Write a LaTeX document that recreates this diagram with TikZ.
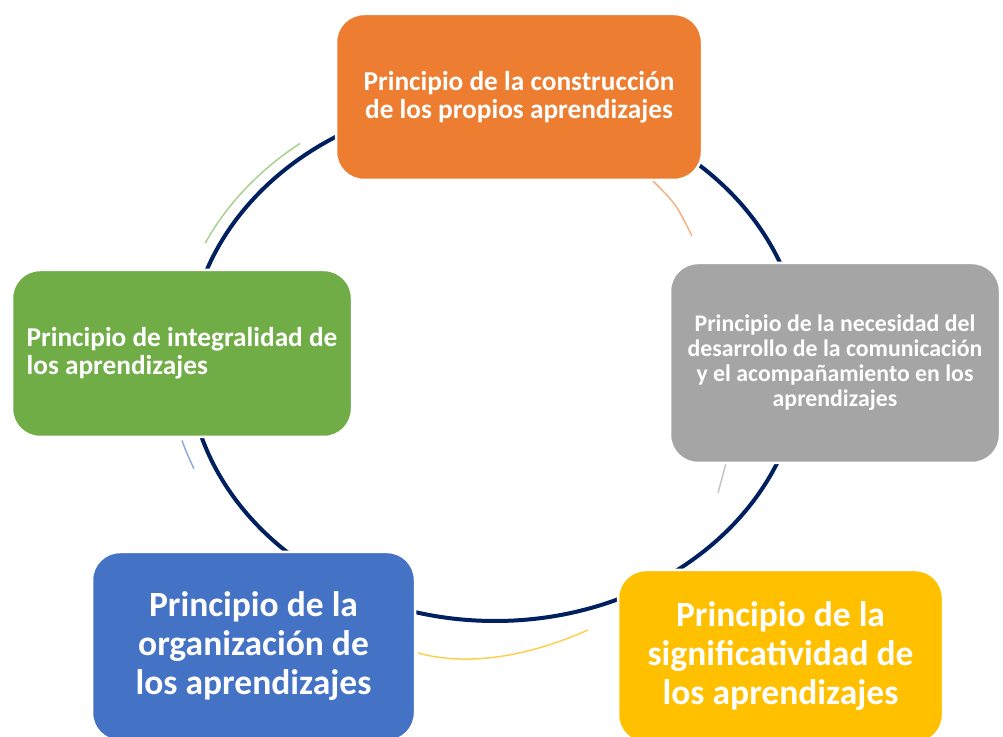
\documentclass[tikz,border=0pt]{standalone}
\usepackage{fontspec}
\setmainfont{Carlito}
\usetikzlibrary{calc}
\definecolor{cOrange}{HTML}{ED7D31}
\definecolor{cGray}{HTML}{A5A5A5}
\definecolor{cGreen}{HTML}{70AD47}
\definecolor{cBlue}{HTML}{4472C4}
\definecolor{cYellow}{HTML}{FFC000}
\definecolor{cNavy}{HTML}{002060}
\definecolor{cOrangeL}{HTML}{F4B183}
\definecolor{cGrayL}{HTML}{C4C4C4}
\definecolor{cGreenL}{HTML}{A9D18E}
\definecolor{cBlueL}{HTML}{8FAADC}
\definecolor{cYellowL}{HTML}{FFD050}
\begin{document}
\begin{tikzpicture}[x=1pt,y=1pt,
  box/.style={rounded corners=28pt, draw=white, line width=2.5pt, text=white, align=center, inner sep=0pt},
  ring/.style={draw=cNavy, line width=4pt},
  ghost/.style={line width=1.5pt},
  fsmall/.style={font={\fontsize{27.3pt}{27.6pt}\selectfont\bfseries}},
  fgray/.style={font={\fontsize{23.8pt}{25pt}\selectfont\bfseries}},
  fbig/.style={font={\fontsize{35.5pt}{39pt}\selectfont\bfseries}}]
\path[use as bounding box] (0,0) rectangle (1003,736);
\clip (0,0) rectangle (1003,736);
\coordinate (ctr) at (495,376);
% main cycle
\draw[ring] (ctr) ellipse [x radius=307pt, y radius=261pt];
% light arcs
\draw[ghost, draw=cGreenL] ($(ctr)+(127.4:320.8pt and 272.7pt)$) arc[start angle=127.4, end angle=154.6, x radius=320.8pt, y radius=272.7pt];
\draw[ghost, draw=cBlueL] ($(ctr)+(196.8:327pt and 278pt)$) arc[start angle=196.8, end angle=203, x radius=327pt, y radius=278pt];
\coordinate (o1) at (652,556);
\coordinate (o2) at (692,500);
\draw[ghost, draw=cOrangeL] (o1) .. controls (676,532) .. (o2);
\coordinate (g1) at (726,273);
\coordinate (g2) at (718,243);
\draw[ghost, draw=cGrayL] (g1) -- (g2);
\coordinate (y1) at (588,106);
\coordinate (y2) at (418,83);
\draw[ghost, draw=cYellowL] (y1) .. controls (525,78) and (465,70) .. (y2);
% boxes
\node[box, fsmall, fill=cOrange, minimum width=366pt, minimum height=166pt] (n1) at (519,639)
  {Principio de la construcción\\de los propios aprendizajes};
\node[box, fgray, fill=cGray, minimum width=330pt, minimum height=200pt] (n2) at (835,373)
  {Principio de la necesidad del\\desarrollo de la comunicación\\y el acompañamiento en los\\aprendizajes};
\node[box, fbig, fill=cYellow, minimum width=325pt, minimum height=173pt] (n3) at (780.5,79.5)
  {Principio de la\\significatividad de\\los aprendizajes};
\node[box, fbig, fill=cBlue, minimum width=323pt, minimum height=189pt] (n4) at (253.5,89.5)
  {Principio de la\\organización de\\los aprendizajes};
\node[box, fsmall, align=left, fill=cGreen, minimum width=340pt, minimum height=167pt] (n5) at (182,382.5)
  {Principio de integralidad de\\los aprendizajes};
\end{tikzpicture}
\end{document}
